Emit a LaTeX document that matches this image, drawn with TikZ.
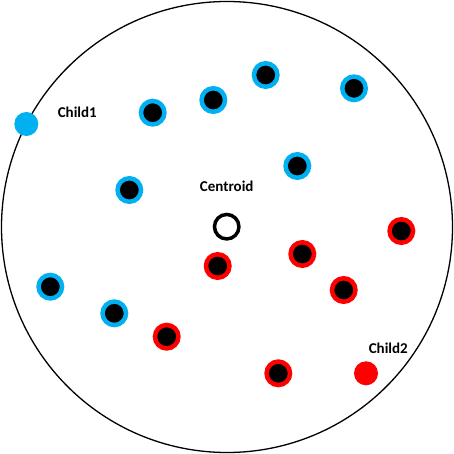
\documentclass[tikz,border=0pt]{standalone}
\usepackage{fontspec}
\setmainfont{Carlito}
\definecolor{ptblue}{RGB}{0,176,240}
\definecolor{ptred}{RGB}{255,0,0}
\begin{document}
\begin{tikzpicture}[x=1pt,y=-1pt,
  bluept/.style={circle,inner sep=0pt,minimum size=23.5pt,fill=black,draw=ptblue,line width=4.5pt},
  redpt/.style={circle,inner sep=0pt,minimum size=23.5pt,fill=black,draw=ptred,line width=4.5pt},
  childpt/.style={circle,inner sep=0pt,minimum size=24pt},
  lbl/.style={font=\bfseries\fontsize{15}{18}\selectfont,inner sep=0pt}]
\useasboundingbox (0,0) rectangle (454,454);
\node[circle,draw=black,line width=1.3pt,inner sep=0pt,minimum size=451pt] (boundary) at (227,227) {};
% blue points
\node[bluept] (b1) at (152.7,112.7) {};
\node[bluept] (b2) at (213.3,100) {};
\node[bluept] (b3) at (265.7,75) {};
\node[bluept] (b4) at (354,88.3) {};
\node[bluept] (b5) at (297.3,166) {};
\node[bluept] (b6) at (129.3,190) {};
\node[bluept] (b7) at (50.3,286.7) {};
\node[bluept] (b8) at (114.3,313.3) {};
% red points
\node[redpt] (r1) at (401.3,231) {};
\node[redpt] (r2) at (302.3,254) {};
\node[redpt] (r3) at (217.7,266) {};
\node[redpt] (r4) at (343.7,290) {};
\node[redpt] (r5) at (166.7,336.7) {};
\node[redpt] (r6) at (278.3,373.3) {};
% centroid
\node[circle,inner sep=0pt,minimum size=24.5pt,fill=white,draw=black,line width=3.5pt] (centroid) at (226.7,226.7) {};
% children
\node[childpt,fill=ptblue] (child1) at (26.3,124) {};
\node[childpt,fill=ptred] (child2) at (366,373.3) {};
% labels
\node[lbl] (lc1) at (77.3,112.3) {Child1};
\node[lbl] (lcen) at (226.7,186.7) {Centroid};
\node[lbl] (lc2) at (388.3,348.3) {Child2};
\end{tikzpicture}
\end{document}
